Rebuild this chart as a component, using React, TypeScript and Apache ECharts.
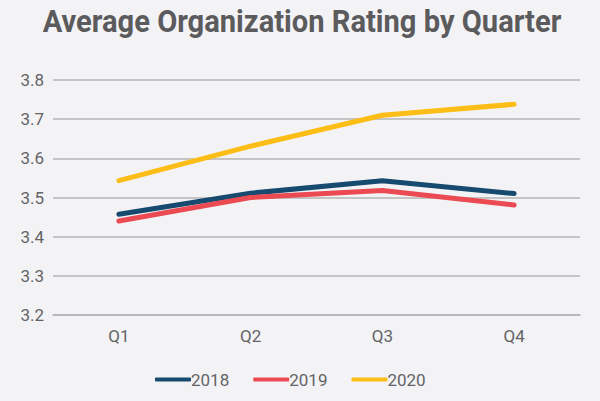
import React, { useEffect, useRef } from "react";
import * as echarts from "echarts";

const categories = ["Q1", "Q2", "Q3", "Q4"];
const s2018 = [3.457, 3.511, 3.543, 3.51];
const s2019 = [3.44, 3.5, 3.518, 3.481];
const s2020 = [3.543, 3.631, 3.71, 3.738];
const seriesNames = ["2018", "2019", "2020"];
const colors = ["#164A6E", "#EB4A52", "#FDBD17"];

export default function App() {
  const ref = useRef<HTMLDivElement>(null);
  useEffect(() => {
    document.body.style.margin = "0";
    const chart = echarts.init(ref.current!, null, { renderer: "svg" });
    const data = [s2018, s2019, s2020];
    chart.setOption({
      animation: false,
      backgroundColor: "#F3F3F5",
      graphic: [
        {
          type: "text",
          x: 302,
          y: 5,
          scaleX: 0.91,
          style: {
            text: "Average Organization Rating by Quarter",
            font: "bold 32px Roboto",
            fill: "#5B5B5D",
            align: "center",
            verticalAlign: "top",
          },
        },
      ],
      grid: { left: 53, right: 20, top: 80, bottom: 86 },
      xAxis: {
        type: "category",
        data: categories,
        boundaryGap: true,
        axisLine: { lineStyle: { color: "#B5B5B5", width: 1.5 } },
        axisTick: { show: false },
        axisLabel: { color: "#636366", fontFamily: "Roboto", fontSize: 17, margin: 12 },
      },
      yAxis: {
        type: "value",
        min: 3.2,
        max: 3.8,
        interval: 0.1,
        axisLine: { show: false },
        axisTick: { show: false },
        splitLine: { lineStyle: { color: "#B5B5B5", width: 1.5 } },
        axisLabel: {
          color: "#636366",
          fontFamily: "Roboto",
          fontSize: 17,
          margin: 9,
          formatter: (v: number) => v.toFixed(1),
        },
      },
      legend: {
        top: 366,
        left: 150,
        itemWidth: 36,
        itemHeight: 4,
        itemGap: 24,
        icon: "roundRect",
        textStyle: { color: "#636366", fontFamily: "Roboto", fontSize: 17, padding: [0, 0, 0, -5] },
        data: seriesNames,
      },
      series: seriesNames.map((n, i) => ({
        name: n,
        type: "line",
        data: data[i],
        showSymbol: false,
        symbol: "none",
        color: colors[i],
        lineStyle: { width: 5, cap: "round", join: "round" },
      })),
    });
    return () => chart.dispose();
  }, []);
  return <div ref={ref} style={{ width: 600, height: 401 }} />;
}
